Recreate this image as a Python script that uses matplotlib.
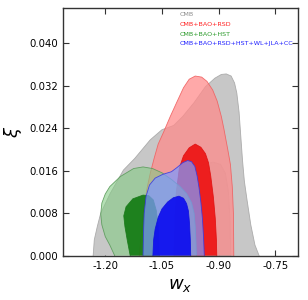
import matplotlib
matplotlib.use("Agg")
import matplotlib.pyplot as plt
from matplotlib.ticker import FormatStrFormatter

# ---------------------------
# contour outlines (w_x, xi)
# ---------------------------
# CMB
cmb_2s_w = [-1.232, -1.229, -1.221, -1.212, -1.187, -1.152, -1.122, -1.081, -1.050, -1.019,
            -0.995, -0.965, -0.935, -0.910, -0.893, -0.880, -0.867, -0.858, -0.852, -0.846,
            -0.842, -0.837, -0.832, -0.825, -0.815, -0.804, -0.793]
cmb_2s_xi = [0.0, 0.003, 0.0055, 0.008, 0.0117, 0.0161, 0.0183, 0.0218, 0.0237, 0.0245,
             0.0262, 0.0288, 0.0318, 0.0334, 0.0341, 0.0342, 0.0338, 0.0325, 0.0306, 0.0270,
             0.0230, 0.0180, 0.0140, 0.0105, 0.0058, 0.0020, 0.0]
cmb_1s_w = [-1.080, -1.070, -1.040, -1.000, -0.965, -0.940, -0.915, -0.895, -0.882, -0.874,
            -0.870, -0.868]
cmb_1s_xi = [0.0, 0.005, 0.009, 0.013, 0.0162, 0.0172, 0.0176, 0.0172, 0.0155, 0.012,
             0.007, 0.0]

# CMB+BAO+RSD
rsd_2s_w = [-1.110, -1.105, -1.099, -1.090, -1.081, -1.070, -1.060, -1.046, -1.028, -1.010,
            -0.993, -0.978, -0.962, -0.945, -0.931, -0.916, -0.904, -0.893, -0.886, -0.876,
            -0.869, -0.864, -0.861, -0.860]
rsd_2s_xi = [0.0, 0.004, 0.0086, 0.0125, 0.0155, 0.0185, 0.021, 0.0232, 0.0262, 0.029,
             0.0316, 0.0332, 0.0338, 0.0336, 0.0328, 0.0312, 0.0291, 0.0262, 0.0238, 0.020,
             0.0172, 0.013, 0.008, 0.0]
rsd_1s_w = [-1.018, -1.016, -1.012, -1.004, -0.993, -0.978, -0.962, -0.947, -0.935, -0.927,
            -0.921, -0.914, -0.909, -0.906, -0.905]
rsd_1s_xi = [0.0, 0.006, 0.012, 0.0165, 0.0188, 0.0203, 0.0210, 0.0204, 0.0192, 0.0175,
             0.015, 0.011, 0.007, 0.003, 0.0]

# CMB+BAO+HST
hst_2s_w = [-1.175, -1.188, -1.200, -1.209, -1.212, -1.209, -1.200, -1.188, -1.160, -1.125,
            -1.100, -1.075, -1.050, -1.024, -1.002, -0.985, -0.972, -0.965, -0.962, -0.960,
            -0.959]
hst_2s_xi = [0.0, 0.002, 0.0036, 0.0058, 0.0078, 0.0099, 0.0116, 0.0130, 0.0149, 0.0164,
             0.0167, 0.0164, 0.0156, 0.0143, 0.0130, 0.0117, 0.0100, 0.0080, 0.0055, 0.0025,
             0.0]
hst_1s_w = [-1.134, -1.142, -1.148, -1.151, -1.145, -1.127, -1.100, -1.085, -1.073, -1.065,
            -1.060, -1.058, -1.057]
hst_1s_xi = [0.0, 0.003, 0.0055, 0.0075, 0.0092, 0.0107, 0.0114, 0.0113, 0.0105, 0.0085,
             0.0055, 0.0025, 0.0]

# CMB+BAO+RSD+HST+WL+JLA+CC
all_2s_w = [-1.100, -1.099, -1.097, -1.092, -1.083, -1.068, -1.048, -1.025, -1.010, -0.995,
            -0.982, -0.972, -0.963, -0.957, -0.952, -0.947, -0.943, -0.940, -0.938]
all_2s_xi = [0.0, 0.004, 0.008, 0.0112, 0.0133, 0.0146, 0.0153, 0.0158, 0.0166, 0.0175,
             0.0179, 0.0177, 0.0168, 0.0150, 0.0128, 0.0100, 0.0070, 0.0035, 0.0]
all_1s_w = [-1.074, -1.072, -1.068, -1.060, -1.050, -1.035, -1.020, -1.005, -0.993, -0.985,
            -0.980, -0.977, -0.975, -0.974]
all_1s_xi = [0.0, 0.003, 0.005, 0.0072, 0.0088, 0.0101, 0.0109, 0.0112, 0.0108, 0.0098,
             0.0084, 0.006, 0.003, 0.0]

labels = ["CMB", "CMB+BAO+RSD", "CMB+BAO+HST", "CMB+BAO+RSD+HST+WL+JLA+CC"]
label_colors = ["#8c8c8c", "#ff2020", "#2a9a2a", "#2020ff"]

x_ticks = [-1.20, -1.05, -0.90, -0.75]
y_ticks = [0.000, 0.008, 0.016, 0.024, 0.032, 0.040]

# ---------------------------
# figure
# ---------------------------
fig = plt.figure(figsize=(3.08, 3.0), dpi=100)
ax = fig.add_axes([0.2055, 0.1477, 0.761, 0.8256])

# (w, xi, face, alpha, edge)
layers = [
    (cmb_2s_w, cmb_2s_xi, (0.78, 0.78, 0.78), 1.0, "#a6a6a6"),
    (cmb_1s_w, cmb_1s_xi, (0.72, 0.72, 0.72), 1.0, "#b0b0b0"),
    (rsd_2s_w, rsd_2s_xi, (1.0, 0.55, 0.55), 0.75, "#f06060"),
    (rsd_1s_w, rsd_1s_xi, (0.93, 0.05, 0.05), 0.88, "#e01010"),
    (hst_2s_w, hst_2s_xi, (0.52, 0.80, 0.52), 0.6, "#5a9a5a"),
    (hst_1s_w, hst_1s_xi, (0.03, 0.46, 0.03), 0.85, "#1a7a1a"),
    (all_2s_w, all_2s_xi, (0.49, 0.60, 1.0), 0.72, "#3a3ae0"),
    (all_1s_w, all_1s_xi, (0.04, 0.04, 0.94), 0.9, "#1010e0"),
]
for w, xi, face, a, edge in layers:
    ax.fill(w, xi, facecolor=face, alpha=a, edgecolor="none", zorder=2)
    ax.plot(w, xi, color=edge, lw=0.6, alpha=0.9, zorder=2)

# legend as coloured text
for i, (lab, c) in enumerate(zip(labels, label_colors)):
    ax.text(0.498, 0.972 - i * 0.039, lab, color=c, fontsize=4.6,
            transform=ax.transAxes, ha="left", va="center")

ax.set_xlim(-1.311, -0.691)
ax.set_ylim(0.0, 0.0466)
ax.set_xticks(x_ticks)
ax.set_yticks(y_ticks)
ax.xaxis.set_major_formatter(FormatStrFormatter("%.2f"))
ax.yaxis.set_major_formatter(FormatStrFormatter("%.3f"))
ax.tick_params(direction="in", top=True, right=True, length=4, width=0.8,
               labelsize=7.3, colors="#333333", labelcolor="black")
for s in ax.spines.values():
    s.set_linewidth(1.0)
    s.set_color("#333333")

ax.set_xlabel(r"$w_x$", fontsize=13, labelpad=4)
ax.set_ylabel(r"$\xi$", fontsize=13, labelpad=4)

fig.savefig("out.png", dpi=100)
